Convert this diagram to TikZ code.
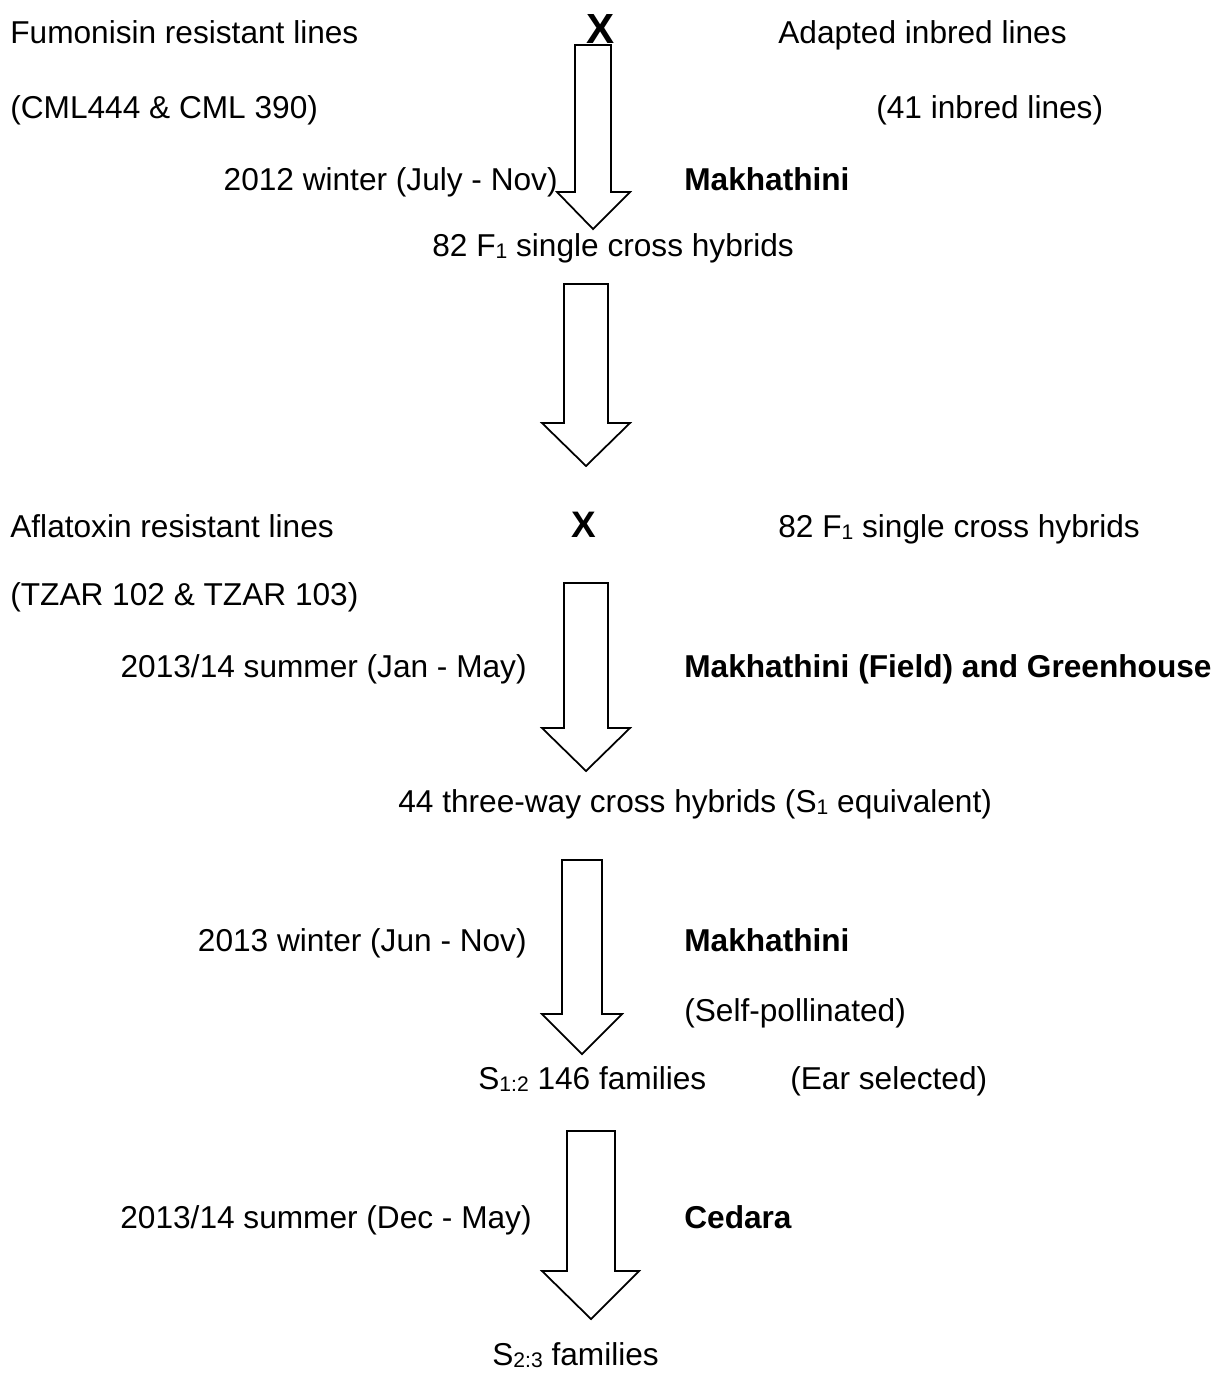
\documentclass[tikz,border=0pt]{standalone}
\usepackage{fontspec}
\setmainfont{Liberation Sans}
\newcommand\lowidx[1]{\raisebox{-1.2pt}{\fontsize{12}{14}\selectfont #1}}
\tikzset{%
  % Specifications for style of nodes:
           txt/.style = {inner sep=0pt, font=\fontsize{18}{21}\selectfont},
          site/.style = {txt, font=\fontsize{18}{21}\selectfont\bfseries},
         cross/.style = {inner sep=0pt, font=\fontsize{24}{28}\selectfont\bfseries},
    blockarrow/.style = {draw=black, line width=1pt, fill=white, line join=miter}
}

\begin{document}
\begin{tikzpicture}[x=0.02cm, y=-0.02cm]
  \useasboundingbox (0,0) rectangle (1225,1374);

  % Specification of nodes (position, etc.)
  % first cross
  \node (fum)     [txt, anchor=base west]  at (10,43)   {Fumonisin resistant lines};
  \node (xone)    [cross, anchor=base]     at (601,43)  {X};
  \node (adapt)   [txt, anchor=base west]  at (778,43)  {Adapted inbred lines};
  \node (cml)     [txt, anchor=base west]  at (10,118)  {(CML444 \& CML 390)};
  \node (inbred)  [txt, anchor=base west]  at (876,118) {(41 inbred lines)};
  \node (winter12)[txt, anchor=base east]  at (558,190) {2012 winter (July - Nov)};
  \node (makone)  [site, anchor=base west] at (684,190) {Makhathini};
  \node (fone)    [txt, anchor=base west]  at (432,256) {82 F\lowidx{1} single cross hybrids};

  % second cross
  \node (afla)    [txt, anchor=base west]  at (10,537)  {Aflatoxin resistant lines};
  \node (xtwo)    [cross, font=\fontsize{21}{25}\selectfont\bfseries, anchor=base] at (584,537) {X};
  \node (fonebis) [txt, anchor=base west]  at (778,537) {82 F\lowidx{1} single cross hybrids};
  \node (tzar)    [txt, anchor=base west]  at (10,605)  {(TZAR 102 \& TZAR 103)};
  \node (summer13)[txt, anchor=base east]  at (527,677) {2013/14 summer (Jan - May)};
  \node (maktwo)  [site, anchor=base west] at (684,677) {Makhathini (Field) and Greenhouse};
  \node (threeway)[txt, anchor=base west]  at (398,812) {44 three-way cross hybrids (S\lowidx{1} equivalent)};

  % selfing
  \node (winter13)[txt, anchor=base east]  at (527,951) {2013 winter (Jun - Nov)};
  \node (makthree)[site, anchor=base west] at (684,951) {Makhathini};
  \node (selfpol) [txt, anchor=base west]  at (684,1021) {(Self-pollinated)};
  \node (sonetwo) [txt, anchor=base west]  at (478,1089) {S\lowidx{1:2} 146 families};
  \node (ear)     [txt, anchor=base west]  at (790,1089) {(Ear selected)};
  \node (summer14)[txt, anchor=base east]  at (532,1228) {2013/14 summer (Dec - May)};
  \node (cedara)  [site, anchor=base west] at (684,1228) {Cedara};
  \node (stwothree)[txt, anchor=base west] at (492,1365) {S\lowidx{2:3} families};

  % Specification of block arrows between the rows
  \draw[blockarrow] (575,45) -- (611,45) -- (611,192) -- (630,192) -- (593,229)
                    -- (557,192) -- (575,192) -- cycle;
  \draw[blockarrow] (564,284) -- (608,284) -- (608,423) -- (630,423) -- (586,466)
                    -- (542,423) -- (564,423) -- cycle;
  \draw[blockarrow] (564,583) -- (608,583) -- (608,728) -- (630,728) -- (586,771)
                    -- (542,728) -- (564,728) -- cycle;
  \draw[blockarrow] (562,860) -- (602,860) -- (602,1014) -- (622,1014) -- (582,1054)
                    -- (542,1014) -- (562,1014) -- cycle;
  \draw[blockarrow] (567,1131) -- (615,1131) -- (615,1271) -- (639,1271) -- (591,1319)
                    -- (542,1271) -- (567,1271) -- cycle;
\end{tikzpicture}
\end{document}
